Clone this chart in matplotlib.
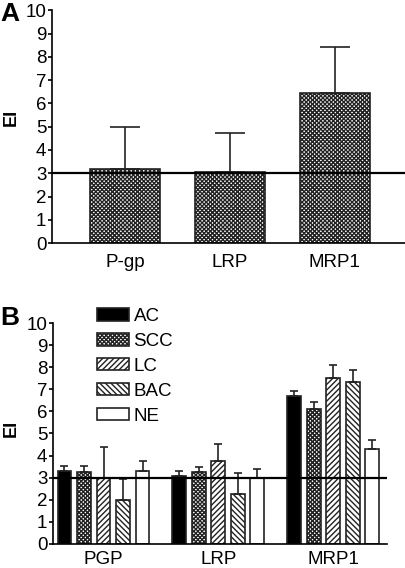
import numpy as np
import matplotlib
matplotlib.use('Agg')
import matplotlib.pyplot as plt

plt.rcParams['font.family'] = ['Liberation Sans', 'DejaVu Sans']
plt.rcParams['hatch.linewidth'] = 1.0

# panel A data
markers_a = ['P-gp', 'LRP', 'MRP1']
ei_a = [3.19, 3.06, 6.46]
ei_a_top = [5.0, 4.71, 8.43]

# panel B data
markers_b = ['PGP', 'LRP', 'MRP1']
groups = ['AC', 'SCC', 'LC', 'BAC', 'NE']
ei_b = {
    'AC':  [3.32, 3.09, 6.68],
    'SCC': [3.26, 3.26, 6.11],
    'LC':  [3.00, 3.77, 7.50],
    'BAC': [2.00, 2.28, 7.32],
    'NE':  [3.29, 3.00, 4.31],
}
ei_b_top = {
    'AC':  [3.54, 3.32, 6.91],
    'SCC': [3.51, 3.47, 6.41],
    'LC':  [4.37, 4.52, 8.10],
    'BAC': [2.94, 3.20, 7.89],
    'NE':  [3.77, 3.41, 4.69],
}
threshold = 3

face = {'AC': 'black', 'SCC': 'white', 'LC': 'white', 'BAC': 'white', 'NE': 'white'}
hatch = {'AC': None, 'SCC': 'xxxxxxxx', 'LC': '//////', 'BAC': '\\\\\\\\\\\\', 'NE': None}

fig = plt.figure(figsize=(4.06, 5.68), dpi=100)
fs = 13.5


def style_axis(ax, pad_x):
    ax.spines['top'].set_visible(False)
    ax.spines['right'].set_visible(False)
    ax.spines['left'].set_linewidth(1.2)
    ax.spines['bottom'].set_linewidth(1.2)
    ax.set_ylim(0, 10)
    ax.set_yticks(range(0, 11))
    ax.tick_params(axis='y', length=3, width=1.2, pad=1, labelsize=fs)
    ax.tick_params(axis='x', length=0, pad=pad_x, labelsize=fs)


# ---- panel A
axa = fig.add_axes([0.128, 0.572, 0.869, 0.410])
xa = np.arange(len(markers_a))
err_a = [np.zeros(3), np.array(ei_a_top) - np.array(ei_a)]
axa.bar(xa, ei_a, width=0.667, color='white', edgecolor='#222222',
        hatch='xxxxxxxx', linewidth=1.2, zorder=2)
axa.errorbar(xa, ei_a, yerr=err_a, fmt='none', ecolor='#222222',
             elinewidth=1.2, capsize=10.5, capthick=1.2, zorder=3)
axa.axhline(threshold, color='black', lw=1.6, zorder=4, clip_on=False)
axa.set_xlim(-0.695, 2.67)
axa.set_xticks(xa)
axa.set_xticklabels(markers_a)
style_axis(axa, 8)

# ---- panel B
axb = fig.add_axes([0.1305, 0.0423, 0.823, 0.389])
xb = np.arange(len(markers_b))
step = 0.17
for i, g in enumerate(groups):
    pos = xb + (i - 2) * step
    vals = np.array(ei_b[g])
    tops = np.array(ei_b_top[g])
    axb.bar(pos, vals, width=0.12, color=face[g], edgecolor='#222222',
            hatch=hatch[g], linewidth=1.2, zorder=2, label=g)
    axb.errorbar(pos, vals, yerr=[np.zeros(3), tops - vals], fmt='none',
                 ecolor='#222222', elinewidth=1.2, capsize=3, capthick=1.2,
                 zorder=3)
axb.axhline(threshold, color='black', lw=1.6, zorder=4)
axb.set_xlim(-0.44, 2.47)
axb.set_xticks(xb)
axb.set_xticklabels(markers_b)
style_axis(axb, 5)

axb.legend(loc='upper left', bbox_to_anchor=(97 / 406, 1 - 308 / 568),
           bbox_transform=fig.transFigure, frameon=False, fontsize=fs,
           handlelength=1.7, handleheight=0.65, labelspacing=0.42,
           handletextpad=0.25, borderpad=0, borderaxespad=0)

# panel letters and axis titles
fig.text(0.0, 0.975, 'A', fontsize=19, fontweight='bold', va='center')
fig.text(0.0, 0.44, 'B', fontsize=19, fontweight='bold', va='center')
fig.text(0.027, 1 - 117 / 568, 'EI', fontsize=13, fontweight='bold',
         rotation=90, va='center', ha='center')
fig.text(0.027, 1 - 428 / 568, 'EI', fontsize=13, fontweight='bold',
         rotation=90, va='center', ha='center')

fig.savefig('out.png', dpi=100)
